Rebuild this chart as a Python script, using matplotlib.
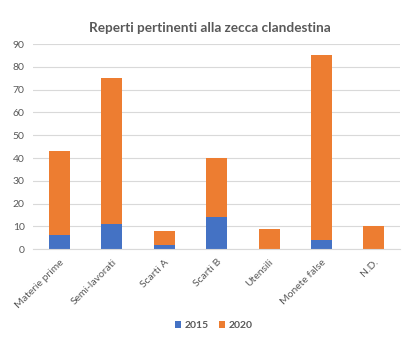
import matplotlib.pyplot as plt
import numpy as np

categories = ['Materie prime', 'Semi-lavorati', 'Scarti A', 'Scarti B',
              'Utensili', 'Monete false', 'N.D.']
values_2015 = [6, 11, 2, 14, 0, 4, 0]
values_2020 = [37, 64, 6, 26, 9, 81, 10]
y_ticks = [0, 10, 20, 30, 40, 50, 60, 70, 80, 90]

blue = '#4472c4'
orange = '#ed7d31'
text_color = '#595959'

plt.rcParams['font.family'] = ['Lato', 'DejaVu Sans']

fig = plt.figure(figsize=(4.03, 3.39), dpi=100)
ax = fig.add_axes([0.082, 0.265, 0.911, 0.605])

x = np.arange(len(categories))
ax.bar(x, values_2015, width=0.4, color=blue, label='2015')
ax.bar(x, values_2020, width=0.4, bottom=values_2015, color=orange, label='2020')

ax.set_xlim(-0.5, len(categories) - 0.5)
ax.set_ylim(0, 90)
ax.set_yticks(y_ticks)
ax.yaxis.grid(True, color='#d9d9d9', linewidth=0.8)
ax.set_axisbelow(True)
for side in ['top', 'right', 'left']:
    ax.spines[side].set_visible(False)
ax.spines['bottom'].set_color('#d9d9d9')
ax.tick_params(axis='both', length=0, labelsize=7.5, colors=text_color, pad=6)
ax.set_xticks(x)
ax.set_xticklabels(categories, rotation=45, ha='right', rotation_mode='anchor')

fig.text(0.52, 0.918, 'Reperti pertinenti alla zecca clandestina', ha='center',
         va='center', fontsize=9.8, color=text_color, fontweight='bold')

fig.legend(loc='center', bbox_to_anchor=(0.53, 0.04), ncol=2, frameon=False,
           handlelength=0.6, handleheight=0.6, columnspacing=1.0,
           handletextpad=0.3, labelcolor=text_color,
           prop={'weight': 'bold', 'size': 7.5})

fig.savefig('out.png', dpi=100)
